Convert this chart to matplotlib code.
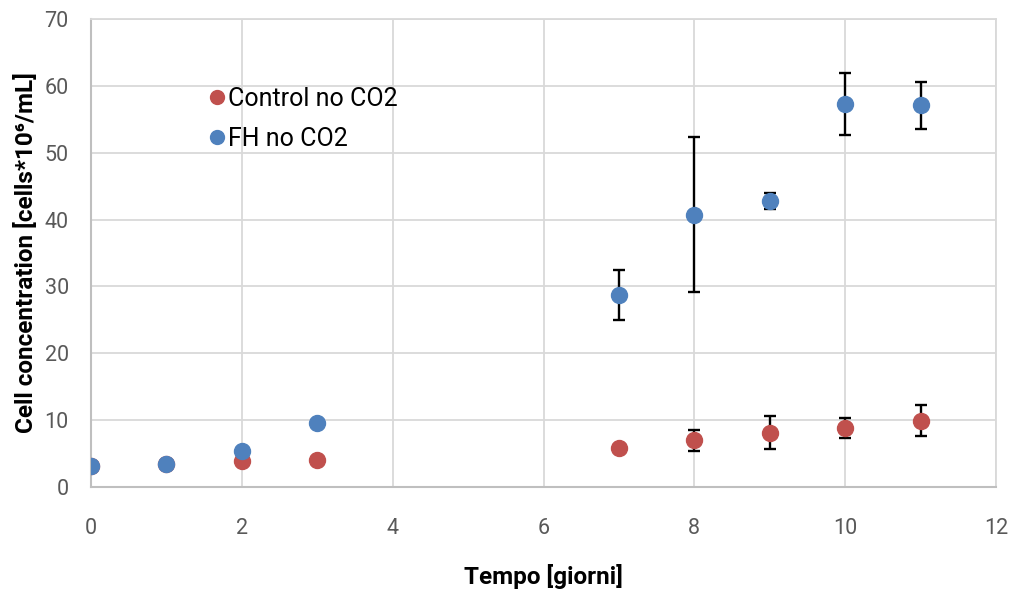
import matplotlib
matplotlib.use("Agg")
import matplotlib.pyplot as plt

plt.rcParams['font.family'] = ['Roboto', 'DejaVu Sans']

# days of sampling
days = [0, 1, 2, 3, 7, 8, 9, 10, 11]

# cell concentration (cells*10^6/mL) and standard deviation
control_mean = [3.2, 3.5, 3.9, 4.0, 5.9, 7.0, 8.1, 8.8, 9.9]
control_err = [0.1, 0.2, 0.2, 0.3, 0.2, 1.6, 2.45, 1.5, 2.3]
fh_mean = [3.2, 3.4, 5.4, 9.6, 28.7, 40.7, 42.8, 57.3, 57.1]
fh_err = [0.1, 0.2, 0.2, 0.3, 3.75, 11.6, 1.15, 4.6, 3.5]

red = '#c0504d'
blue = '#4f81bd'

fig = plt.figure(figsize=(10.13, 5.93), dpi=100)
ax = fig.add_axes([91 / 1013, 1 - 487 / 593, (996 - 91) / 1013, (487 - 19) / 593])

ax.errorbar(days, control_mean, yerr=control_err, fmt='o', color=red,
            ms=11.5, ecolor='black', elinewidth=1.7, capsize=4.5, capthick=1.7,
            label='Control no CO2', zorder=3)
ax.errorbar(days, fh_mean, yerr=fh_err, fmt='o', color=blue,
            ms=11.5, ecolor='black', elinewidth=1.7, capsize=4.5, capthick=1.7,
            label='FH no CO2', zorder=4)

ax.set_xlim(0, 12)
ax.set_ylim(0, 70)
ax.set_xticks(range(0, 13, 2))
ax.set_yticks(range(0, 71, 10))
ax.grid(True, color='#d9d9d9', linewidth=1.3)
ax.set_axisbelow(True)
for side in ['top', 'right']:
    ax.spines[side].set_color('#d9d9d9')
    ax.spines[side].set_linewidth(1.3)
for side in ['left', 'bottom']:
    ax.spines[side].set_color('#bfbfbf')
    ax.spines[side].set_linewidth(1.5)
ax.tick_params(length=0, labelsize=15.5, labelcolor='#595959')
ax.tick_params(axis='x', pad=22)
ax.tick_params(axis='y', pad=16)

ax.set_xlabel('Tempo [giorni]', fontsize=17.5, fontweight='bold', labelpad=18)
ax.set_ylabel('Cell concentration [cells*10⁶/mL]', fontsize=17.5, fontweight='bold', labelpad=5)

handles, labels = ax.get_legend_handles_labels()
handles = [h[0] for h in handles]
ax.legend(handles, labels, loc='upper left', bbox_to_anchor=(0.131, 0.855),
          frameon=False, fontsize=18, handletextpad=0.15, handlelength=0.6,
          markerscale=0.87, labelspacing=0.65, borderpad=0, borderaxespad=0)

fig.savefig('out.png', dpi=100)
